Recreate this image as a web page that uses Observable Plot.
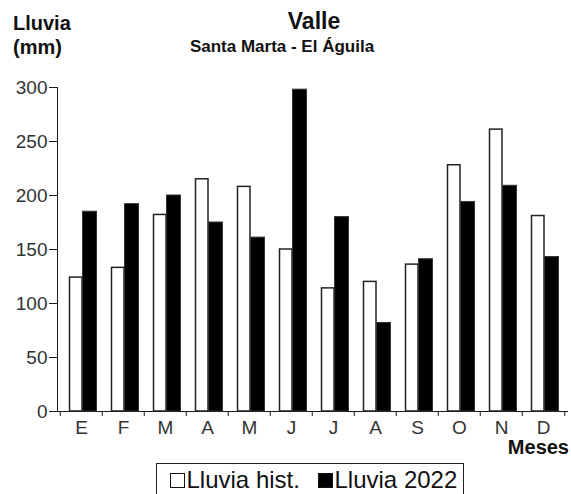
<!DOCTYPE html>
<html><head><meta charset="utf-8">
<script src="https://cdn.jsdelivr.net/npm/d3@7"></script>
<script src="https://cdn.jsdelivr.net/npm/@observablehq/plot@0.6"></script>
<style>
body{margin:0;background:#fff;}
#wrap{position:relative;width:571px;height:494px;overflow:hidden;font-family:"Liberation Sans",Arial,sans-serif;color:#111;}
#chart{position:absolute;left:0;top:0;}
.t{position:absolute;white-space:nowrap;line-height:1;font-weight:bold;}
#legend{position:absolute;left:156px;top:463px;width:306px;height:40px;border:1.5px solid #222;font-size:24px;line-height:1;}
.li{position:absolute;top:4px;white-space:nowrap;}
.sw{display:inline-block;box-sizing:border-box;width:15px;height:15px;border:1.5px solid #111;margin-right:2px;vertical-align:0px;}
#chart svg [aria-label$="tick label"]{fill:#333;}
</style></head><body>
<div id="wrap">
  <div id="chart"></div>
  <div class="t" id="title" style="font-size:23px;left:314px;top:9.5px;transform:translateX(-50%);">Valle</div>
  <div class="t" id="subtitle" style="font-size:17px;left:282px;top:37.5px;transform:translateX(-50%);">Santa Marta - El Águila</div>
  <div class="t" id="ylab" style="font-size:20px;left:13px;top:11px;line-height:24px;">Lluvia<br>(mm)</div>
  <div class="t" id="xlab" style="font-size:20px;right:2px;top:437px;">Meses</div>
  <div id="legend"></div>
</div>
<script>
const monthKeys = ["Ene","Feb","Mar","Abr","May","Jun","Jul","Ago","Sep","Oct","Nov","Dic"];
const monthLabels = ["E","F","M","A","M","J","J","A","S","O","N","D"];
const lluviaHist = [124, 133, 182, 215, 208, 150, 114, 120, 136, 228, 261, 181];
const lluvia2022 = [185, 192, 200, 175, 161, 298, 180, 82, 141, 194, 209, 143];
const yTicks = [0, 50, 100, 150, 200, 250, 300];
const seriesNames = ["Lluvia hist.", "Lluvia 2022"];

const rows = monthKeys.map((m, i) => ({month: m, hist: lluviaHist[i], y2022: lluvia2022[i]}));
const labelOf = new Map(monthKeys.map((m, i) => [m, monthLabels[i]]));

const W = 571, H = 494, mL = 57, mR = 4, mT = 87, mB = 83;
const half = (W - mL - mR) / monthKeys.length / 2;

const chart = Plot.plot({
  width: W, height: H,
  marginTop: mT, marginBottom: mB, marginLeft: mL, marginRight: mR,
  style: {fontFamily: "'Liberation Sans', Arial, sans-serif", fontSize: "19px", color: "#1a1a1a", background: "transparent"},
  x: {domain: monthKeys, padding: 0, tickSize: 0, tickPadding: 9, tickFormat: d => labelOf.get(d), label: null, line: true},
  y: {domain: [0, 300], ticks: yTicks, tickSize: 8, tickPadding: 2, label: null, line: true},
  marks: [
    Plot.barY(rows, {x: "month", y: "hist", fill: "white", stroke: "#222", strokeWidth: 1.5, insetLeft: 9.5, insetRight: 20}),
    Plot.barY(rows, {x: "month", y: "y2022", fill: "black", stroke: "#333", strokeWidth: 1, insetLeft: 22.5, insetRight: 5.5}),
    Plot.ruleX(monthKeys, {x: d => d, dx: -half, y1: 0, y2: 0, insetBottom: -5, stroke: "#1a1a1a"}),
    Plot.ruleX(monthKeys.slice(-1), {x: d => d, dx: half, y1: 0, y2: 0, insetBottom: -5, stroke: "#1a1a1a"})
  ]
});
document.getElementById("chart").appendChild(chart);

const legend = document.getElementById("legend");
const fills = ["white", "black"];
const lefts = [12.5, 160.5];
seriesNames.forEach((name, i) => {
  const item = document.createElement("div");
  item.className = "li";
  item.style.left = lefts[i] + "px";
  const sw = document.createElement("span");
  sw.className = "sw";
  sw.style.background = fills[i];
  item.appendChild(sw);
  item.appendChild(document.createTextNode(name));
  legend.appendChild(item);
});
</script>
</body></html>
